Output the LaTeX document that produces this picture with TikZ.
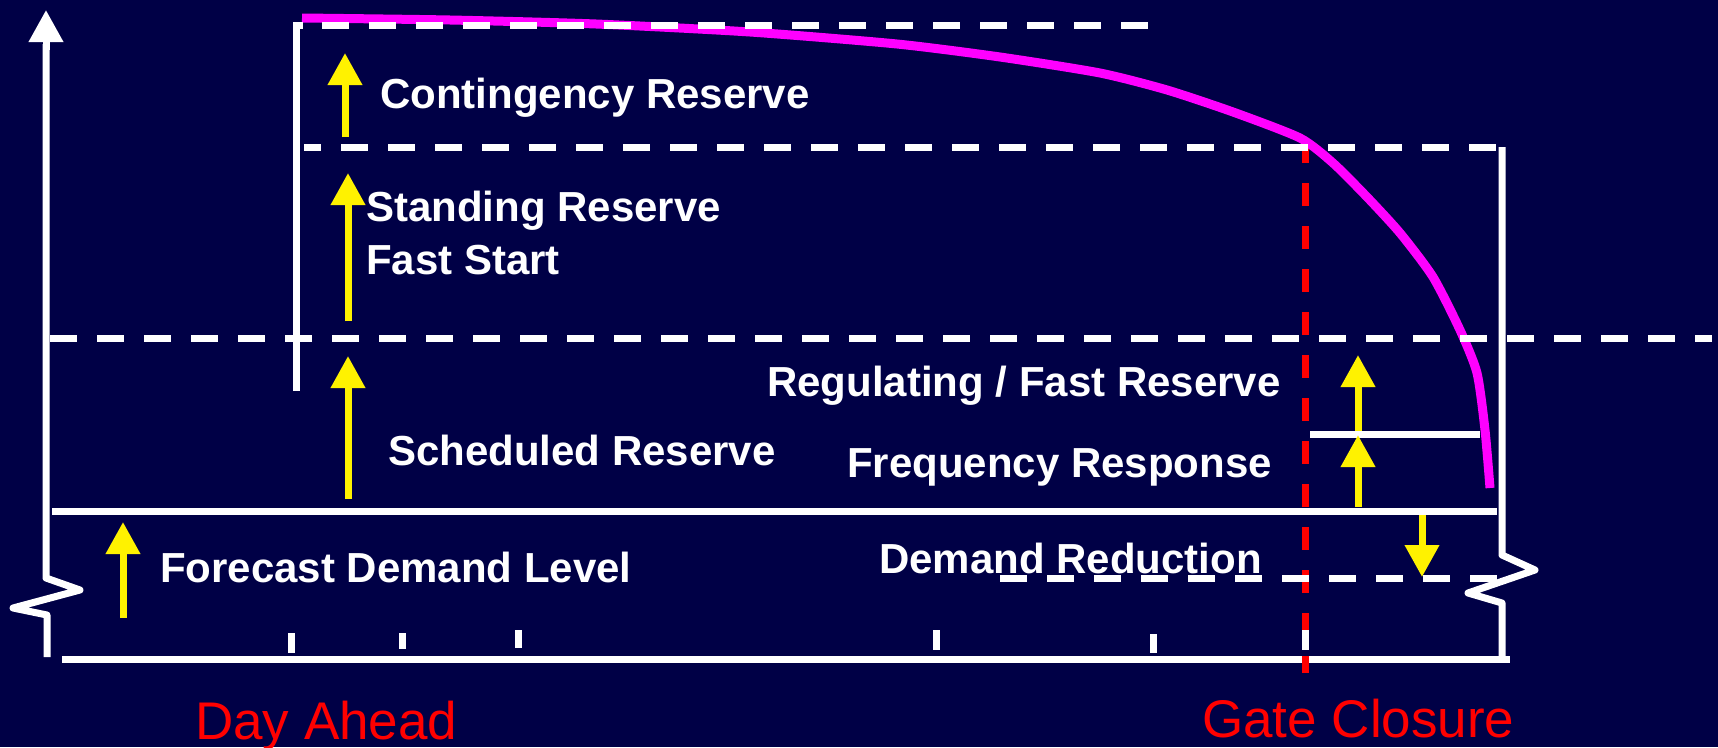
\documentclass[tikz,border=0pt]{standalone}
\usepackage{fontspec}
\setmainfont{Liberation Sans}
\usetikzlibrary{arrows.meta}
\definecolor{bg}{RGB}{0,0,70}
\definecolor{curve}{RGB}{255,0,255}
\begin{document}
\begin{tikzpicture}[x=1pt,y=-1pt,
  wline/.style={white,line width=7pt},
  wdash/.style={white,line width=7pt,dash pattern=on 27pt off 20pt},
  rdash/.style={red,line width=7pt,dash pattern=on 23pt off 20pt},
  yarrow/.style={yellow,line width=7pt,-{Triangle[length=32pt,width=33pt]}},
  lbl/.style={text=white,font=\bfseries\fontsize{42}{48}\selectfont,anchor=base west,inner sep=0pt},
  rlbl/.style={text=red,font=\fontsize{53}{60}\selectfont,anchor=base west,inner sep=0pt},
  tick/.style={white,line width=7pt}
]
\fill[bg] (0,0) rectangle (1718,747);
\useasboundingbox (0,0) rectangle (1718,747);

% left axis with break
\coordinate (ytip) at (46,10);
\coordinate (ybot) at (47,657);
\draw[wline,line join=round] (ybot) -- (47,615) -- (13,608) -- (80,590) -- (46,578) -- (46,44);
\draw[white,line width=7pt,-{Triangle[length=32pt,width=33pt]}] (46,50) -- (ytip);

% bottom axis
\coordinate (xl) at (62,659);
\coordinate (xr) at (1510,659);
\draw[wline] (xl) -- (xr);

% right side with break
\draw[wline,line join=round] (1502,659) -- (1502,603) -- (1468,593) -- (1535,570) -- (1502,555) -- (1502,147);

% red gate closure line
\coordinate (gtop) at (1305,147);
\coordinate (gbot) at (1305,673);
\draw[rdash,dash phase=7pt] (gtop) -- (gbot);

% ticks
\foreach \x/\a/\b in {291/633/653,402/633/649,518/630/648,936/630/650,1153/634/653,1305/630/650}
  \draw[tick] (\x,\a) -- (\x,\b);

% magenta curve
\draw[curve,line width=9pt,line cap=butt] plot[smooth,tension=0.4] coordinates {
 (302,18) (450,20) (596,24) (750,32) (897,44) (1000,57) (1100,73) (1167,90)
 (1233,112) (1300,138) (1333,163) (1367,197) (1400,233) (1433,277) (1460,330)
 (1477,373) (1485,430) (1490,488)};

% left upper bracket
\draw[wline] (296,391) -- (296,25) -- (303,25);

% dashed levels
\draw[wdash,dash phase=27pt] (302,25) -- (1150,25);
\draw[wdash,dash phase=10pt] (304,147) -- (1497,147);
\draw[wdash] (50,338) -- (1712,338);
\draw[wdash] (1000,578) -- (1497,578);

% solid levels
\draw[wline] (52,511) -- (1497,511);
\draw[wline] (1310,434) -- (1480,434);

% yellow arrows
\coordinate (a1t) at (345,137); \coordinate (a1h) at (345,53);
\coordinate (a2t) at (348,321); \coordinate (a2h) at (348,173);
\coordinate (a3t) at (348,499); \coordinate (a3h) at (348,356);
\coordinate (a4t) at (123,618); \coordinate (a4h) at (123,522);
\coordinate (a5t) at (1358,431); \coordinate (a5h) at (1358,355);
\coordinate (a6t) at (1358,507); \coordinate (a6h) at (1358,435);
\coordinate (a7t) at (1422,515); \coordinate (a7h) at (1422,577);
\draw[yarrow] (a1t) -- (a1h);
\draw[yarrow] (a2t) -- (a2h);
\draw[yarrow] (a3t) -- (a3h);
\draw[yarrow] (a4t) -- (a4h);
\draw[yarrow] (a5t) -- (a5h);
\draw[yarrow] (a6t) -- (a6h);
\draw[yarrow] (a7t) -- (a7h);

% labels
\node[lbl] (cont) at (380,108) {Contingency Reserve};
\node[lbl] (stand) at (366,221) {Standing Reserve};
\node[lbl] (fast) at (366,274) {Fast Start};
\node[lbl] (reg) at (767,396) {Regulating / Fast Reserve};
\node[lbl] (sched) at (388,465) {Scheduled Reserve};
\node[lbl] (freq) at (847,477) {Frequency Response};
\node[lbl] (dred) at (879,573) {Demand Reduction};
\node[lbl] (fdl) at (160,582) {Forecast Demand Level};
\node[rlbl] (day) at (195,739) {Day Ahead};
\node[rlbl] (gate) at (1202,737) {Gate Closure};
\end{tikzpicture}
\end{document}
